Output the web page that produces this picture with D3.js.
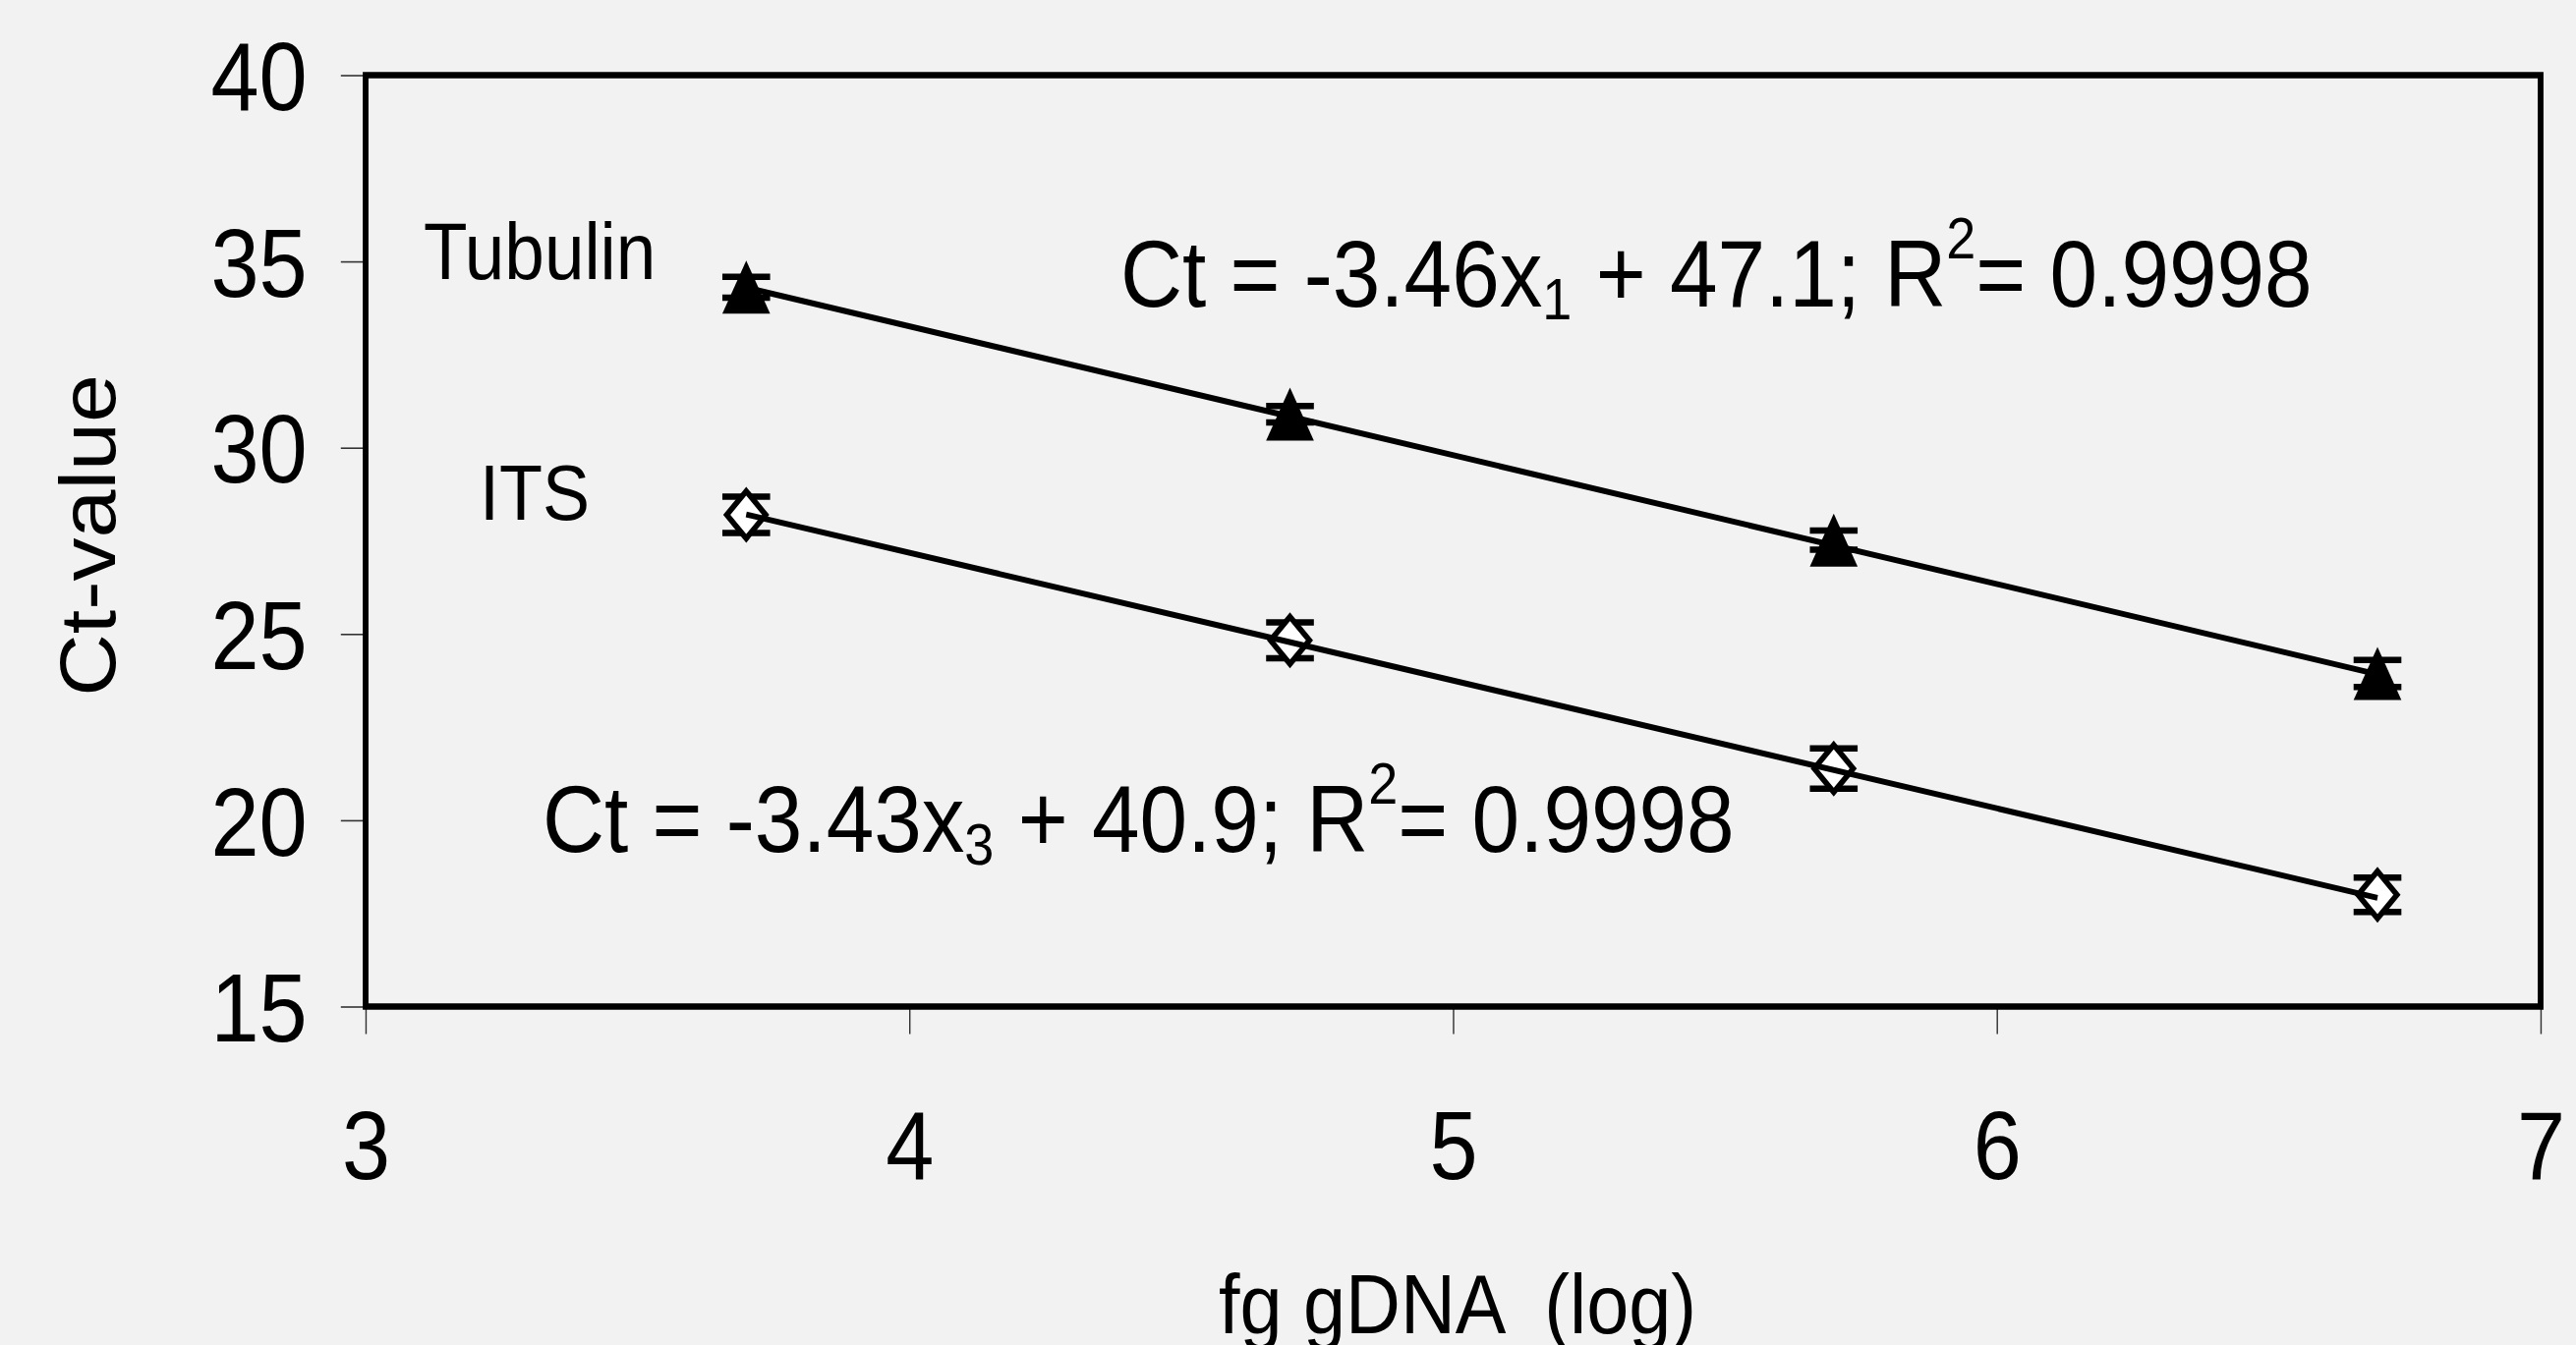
<!DOCTYPE html>
<html>
<head>
<meta charset="utf-8">
<script src="https://cdn.jsdelivr.net/npm/d3@7"></script>
<style>
  html, body { margin: 0; padding: 0; background: #f2f2f2; }
  svg { display: block; }
  text { font-family: "Liberation Sans", Arial, sans-serif; fill: #000; }
</style>
</head>
<body>
<div id="chart"></div>
<script>
// data
const xLog = [3.7, 4.7, 5.7, 6.7];
const tubulinCt = [34.31, 30.9, 27.52, 23.94];
const tubulinErr = [0.28, 0.22, 0.26, 0.36];
const itsCt = [28.2, 24.83, 21.39, 18.0];
const itsErr = [0.49, 0.48, 0.54, 0.46];

// linear fits (slope, intercept)
const tubulinFit = [-3.46, 47.1];
const itsFit = [-3.43, 40.9];

const xTicks = [3, 4, 5, 6, 7];
const yTicks = [15, 20, 25, 30, 35, 40];

const W = 2621, H = 1369;
const SX = 0.9; // the original picture is squeezed horizontally

const x = d3.scaleLinear().domain([3, 7]).range([372 / SX, 2585 / SX]);
const y = d3.scaleLinear().domain([15, 40]).range([1024.5, 76.5]);

const svg = d3.select('#chart').append('svg')
  .attr('width', W)
  .attr('height', H);

svg.append('rect').attr('width', W).attr('height', H).attr('fill', '#f2f2f2');

const g = svg.append('g').attr('transform', `scale(${SX},1)`);

// axes (ticks + labels only, frame drawn separately)
const yAxis = g.append('g')
  .attr('transform', `translate(${x(3)},0)`)
  .call(d3.axisLeft(y).tickValues(yTicks).tickFormat(d3.format('d'))
    .tickSize(28).tickPadding(38));

const xAxis = g.append('g')
  .attr('transform', `translate(0,${y(15)})`)
  .call(d3.axisBottom(x).tickValues(xTicks).tickFormat(d3.format('d'))
    .tickSize(28).tickPadding(78));

[yAxis, xAxis].forEach(a => {
  a.select('.domain').remove();
  a.selectAll('line').attr('stroke', '#333').attr('stroke-width', 1.6);
  a.selectAll('text')
    .attr('fill', '#000')
    .style('font-size', '98px')
    .style('font-family', '"Liberation Sans", Arial, sans-serif');
});
yAxis.selectAll('text').attr('dy', '0.36em');

// plot frame
g.append('rect')
  .attr('x', x(3))
  .attr('y', y(40))
  .attr('width', x(7) - x(3))
  .attr('height', y(15) - y(40))
  .attr('fill', 'none')
  .attr('stroke', '#000')
  .attr('stroke-width', 6.5);

// error bars
function errorBars(vals, errs) {
  const cap = 27;
  const eb = g.append('g');
  xLog.forEach((xv, k) => {
    const top = y(vals[k] + errs[k]);
    const bot = y(vals[k] - errs[k]);
    eb.append('line')
      .attr('x1', x(xv)).attr('x2', x(xv))
      .attr('y1', top).attr('y2', bot)
      .attr('stroke', '#000').attr('stroke-width', 2.5);
    [top, bot].forEach(yy => {
      eb.append('line')
        .attr('x1', x(xv) - cap).attr('x2', x(xv) + cap)
        .attr('y1', yy).attr('y2', yy)
        .attr('stroke', '#000').attr('stroke-width', 6.5);
    });
  });
}
errorBars(tubulinCt, tubulinErr);
errorBars(itsCt, itsErr);

// markers
const tri = 'M0,-27L27,27L-27,27Z';
g.append('g').selectAll('path')
  .data(xLog.map((xv, k) => [xv, tubulinCt[k]]))
  .join('path')
  .attr('d', tri)
  .attr('transform', d => `translate(${x(d[0])},${y(d[1])})`)
  .attr('fill', '#000');

const dia = 'M0,-24L22,0L0,24L-22,0Z';
g.append('g').selectAll('path')
  .data(xLog.map((xv, k) => [xv, itsCt[k]]))
  .join('path')
  .attr('d', dia)
  .attr('transform', d => `translate(${x(d[0])},${y(d[1])})`)
  .attr('fill', '#fff')
  .attr('stroke', '#000')
  .attr('stroke-width', 6);

// trend lines
const line = d3.line().x(d => x(d[0])).y(d => y(d[1]));
[tubulinFit, itsFit].forEach(f => {
  const ends = [xLog[0], xLog[xLog.length - 1]].map(xv => [xv, f[0] * xv + f[1]]);
  g.append('path')
    .attr('d', line(ends))
    .attr('fill', 'none')
    .attr('stroke', '#000')
    .attr('stroke-width', 6);
});

// series labels
g.append('text').attr('x', 431 / SX).attr('y', 284)
  .style('font-size', '81px').text('Tubulin');
g.append('text').attr('x', 488 / SX).attr('y', 529)
  .style('font-size', '80px').text('ITS');

// equations
function equation(px, py, f, sub) {
  const t = g.append('text').attr('x', px / SX).attr('y', py).style('font-size', '97px');
  t.append('tspan').text(`Ct = ${f[0].toFixed(2)}x`);
  t.append('tspan').attr('dy', 13).style('font-size', '60px').text(sub);
  t.append('tspan').attr('dy', -13).text(` + ${f[1]}; R`);
  t.append('tspan').attr('dy', -49).style('font-size', '60px').text('2');
  t.append('tspan').attr('dy', 49).text('= 0.9998');
}
equation(1140, 312, tubulinFit, '1');
equation(552, 867, itsFit, '3');

// axis titles
g.append('text')
  .attr('transform', `translate(${117 / SX},545) rotate(-90)`)
  .attr('text-anchor', 'middle')
  .style('font-size', '88px')
  .text('Ct-value');

g.append('text')
  .attr('x', 1483 / SX).attr('y', 1357)
  .attr('text-anchor', 'middle')
  .style('font-size', '86px')
  .style('white-space', 'pre')
  .text('fg gDNA  (log)');
</script>
</body>
</html>
